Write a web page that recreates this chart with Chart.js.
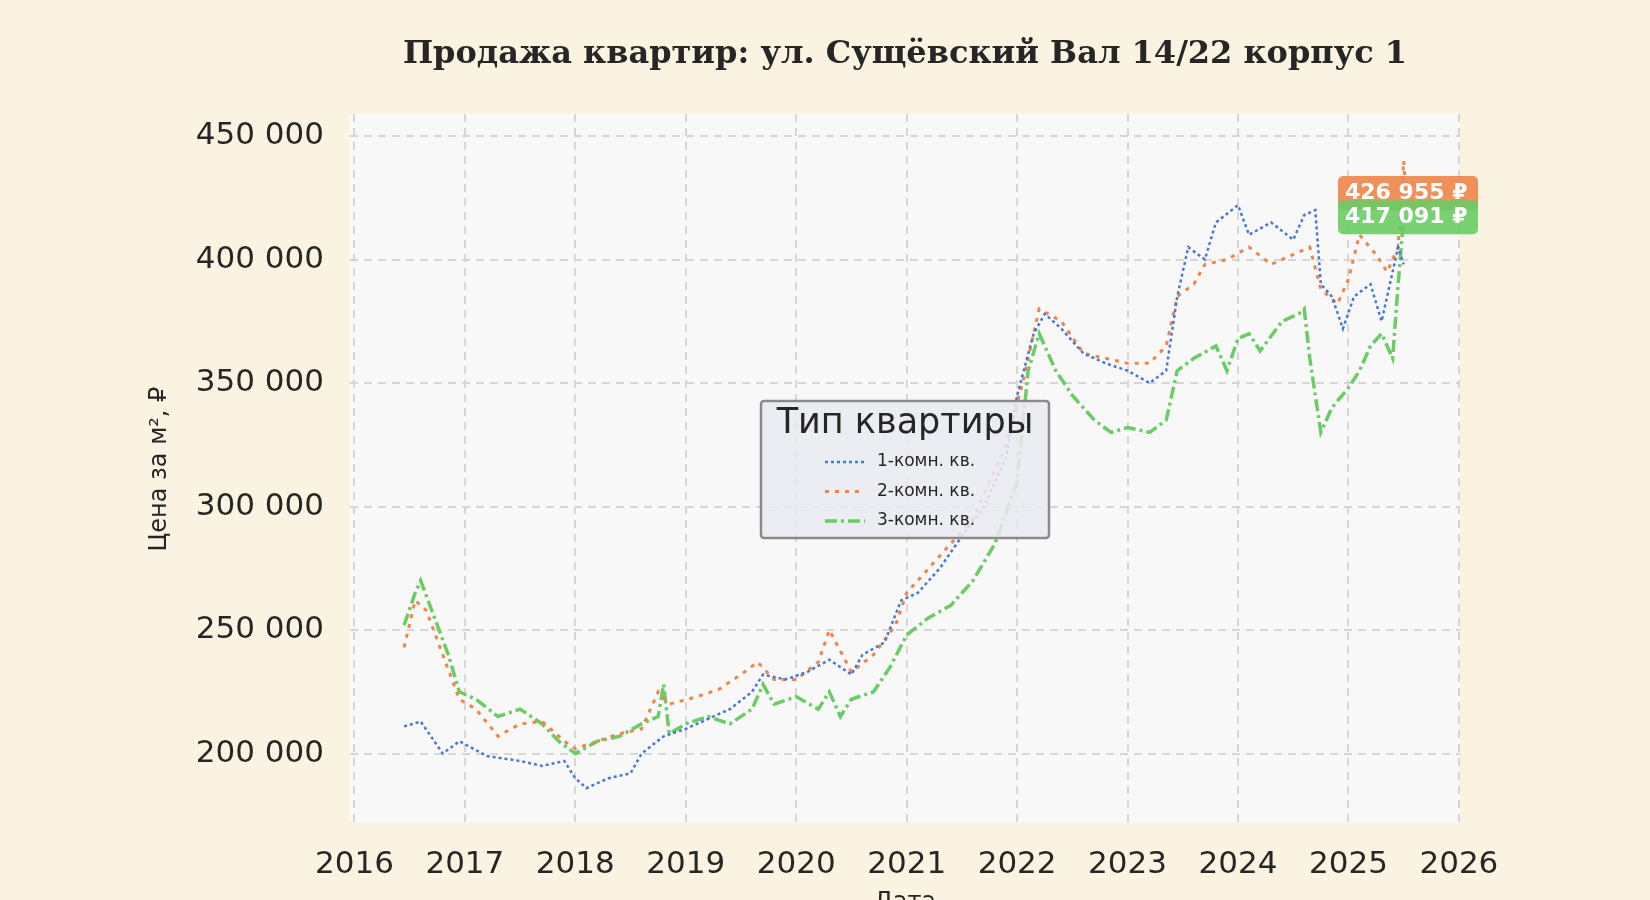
<!DOCTYPE html>
<html>
<head>
<meta charset="utf-8">
<script src="https://cdn.jsdelivr.net/npm/chart.js@4/dist/chart.umd.min.js"></script>
<style>
  html, body { margin: 0; padding: 0; background: #faf3e1; overflow: hidden; }
  #wrap { width: 1650px; height: 900px; position: relative; }
</style>
</head>
<body>
<div id="wrap"><canvas id="chart" width="1650" height="900"></canvas></div>
<script>
// --- Данные (год в десятичном виде, цена за м²) ---
const years1 = [2016.45,2016.6,2016.8,2016.95,2017.2,2017.5,2017.7,2017.9,2018.0,2018.1,2018.3,2018.5,2018.6,2018.8,2019.0,2019.2,2019.4,2019.6,2019.7,2019.9,2020.1,2020.3,2020.5,2020.6,2020.8,2020.95,2021.1,2021.3,2021.5,2021.7,2021.9,2022.0,2022.15,2022.25,2022.4,2022.6,2022.8,2023.0,2023.2,2023.35,2023.45,2023.55,2023.7,2023.8,2024.0,2024.1,2024.3,2024.5,2024.6,2024.7,2024.75,2024.85,2024.95,2025.05,2025.2,2025.3,2025.45,2025.5];
const prices1 = [211000,213000,200000,205000,199000,197000,195000,197000,190000,186000,190000,192000,200000,207000,210000,214000,218000,225000,232000,230000,233000,238000,232000,240000,245000,262000,265000,275000,288000,300000,320000,345000,370000,378000,372000,362000,358000,355000,350000,355000,385000,405000,400000,415000,422000,410000,415000,408000,418000,420000,390000,385000,372000,385000,390000,375000,405000,398000];

const years2 = [2016.45,2016.55,2016.65,2016.8,2016.95,2017.1,2017.3,2017.5,2017.7,2017.9,2018.0,2018.2,2018.4,2018.6,2018.75,2018.85,2019.1,2019.3,2019.5,2019.65,2019.8,2020.0,2020.2,2020.3,2020.5,2020.7,2020.9,2021.0,2021.3,2021.6,2021.9,2022.05,2022.2,2022.4,2022.6,2022.8,2023.0,2023.2,2023.35,2023.45,2023.6,2023.7,2023.9,2024.1,2024.3,2024.5,2024.65,2024.75,2024.9,2025.0,2025.1,2025.25,2025.35,2025.45,2025.5,2025.52];
const prices2 = [243000,262000,258000,240000,222000,218000,207000,212000,213000,205000,202000,205000,208000,210000,225000,220000,223000,226000,232000,237000,230000,230000,237000,250000,233000,240000,252000,265000,280000,295000,325000,350000,380000,375000,362000,360000,358000,358000,365000,385000,390000,398000,400000,405000,398000,402000,405000,388000,382000,392000,410000,402000,395000,405000,440000,426955];

const years3 = [2016.45,2016.55,2016.6,2016.7,2016.85,2016.95,2017.1,2017.3,2017.5,2017.7,2017.85,2018.0,2018.2,2018.4,2018.6,2018.75,2018.8,2018.85,2019.0,2019.2,2019.4,2019.6,2019.7,2019.8,2020.0,2020.2,2020.3,2020.4,2020.5,2020.7,2020.85,2021.0,2021.2,2021.4,2021.6,2021.8,2022.0,2022.1,2022.2,2022.35,2022.5,2022.7,2022.85,2023.0,2023.2,2023.35,2023.45,2023.6,2023.8,2023.9,2024.0,2024.1,2024.2,2024.4,2024.55,2024.6,2024.65,2024.7,2024.75,2024.85,2025.0,2025.1,2025.2,2025.3,2025.4,2025.45,2025.5];
const prices3 = [252000,265000,270000,258000,240000,225000,222000,215000,218000,212000,205000,200000,205000,207000,212000,215000,228000,208000,212000,215000,212000,218000,228000,220000,223000,218000,225000,215000,222000,225000,235000,248000,255000,260000,270000,285000,310000,355000,370000,355000,345000,335000,330000,332000,330000,335000,355000,360000,365000,355000,368000,370000,363000,375000,378000,380000,360000,345000,330000,340000,348000,355000,365000,370000,360000,390000,417091];

const seriesNames = ['1-комн. кв.', '2-комн. кв.', '3-комн. кв.'];
const seriesColors = ['#4878d0', '#ee854a', '#6acc64'];
const seriesDash = [[3, 3], [4, 6], [12, 4, 3, 4]];
const seriesWidth = [2.5, 3, 3.5];
const yTicks = [200000, 250000, 300000, 350000, 400000, 450000];
const xTicks = [2016, 2017, 2018, 2019, 2020, 2021, 2022, 2023, 2024, 2025, 2026];

const toPts = (xs, ys) => xs.map((x, i) => ({ x, y: ys[i] }));
const fmt = v => Math.round(v).toString().replace(/\B(?=(\d{3})+(?!\d))/g, ' ');

// --- Плагины ---
const decor = {
    id: 'decor',
    beforeDraw(chart) {
        const { ctx, chartArea: a } = chart;
        ctx.save();
        ctx.fillStyle = '#faf3e1';
        ctx.fillRect(0, 0, chart.width, chart.height);
        ctx.fillStyle = '#f8f8f8';
        ctx.fillRect(a.left, a.top, a.right - a.left, a.bottom - a.top);
        ctx.restore();
    },
    afterDraw(chart) {
        const { ctx } = chart;
        const y = chart.scales.y;
        ctx.save();
        // заголовок
        ctx.fillStyle = '#262626';
        ctx.font = 'bold 32px "DejaVu Serif"';
        ctx.textAlign = 'center';
        ctx.textBaseline = 'middle';
        ctx.fillText('Продажа квартир: ул. Сущёвский Вал 14/22 корпус 1', 905, 55);
        // подписи осей
        ctx.font = '24px "DejaVu Sans"';
        ctx.fillText('Дата', 905, 903);
        ctx.translate(160, 469);
        ctx.rotate(-Math.PI / 2);
        ctx.fillText('Цена за м², ₽', 0, 0);
        ctx.restore();

        // легенда
        ctx.save();
        ctx.fillStyle = 'rgba(234,234,242,0.85)';
        ctx.strokeStyle = '#8a8a8a';
        ctx.lineWidth = 2.5;
        ctx.beginPath();
        ctx.roundRect(761, 401, 288, 137, 3);
        ctx.fill();
        ctx.stroke();
        ctx.fillStyle = '#262626';
        ctx.textAlign = 'center';
        ctx.textBaseline = 'middle';
        ctx.font = '35px "DejaVu Sans"';
        ctx.fillText('Тип квартиры', 905, 424);
        ctx.font = '17px "DejaVu Sans"';
        ctx.textAlign = 'left';
        seriesNames.forEach((n, i) => {
            const ly = 462 + i * 29.5;
            ctx.strokeStyle = seriesColors[i];
            ctx.lineWidth = seriesWidth[i];
            ctx.setLineDash(seriesDash[i]);
            ctx.beginPath();
            ctx.moveTo(825, ly);
            ctx.lineTo(865, ly);
            ctx.stroke();
            ctx.fillText(n, 877, ly);
        });
        ctx.setLineDash([]);
        ctx.restore();

        // метки последних значений
        ctx.save();
        ctx.font = 'bold 22px "DejaVu Sans"';
        ctx.textBaseline = 'middle';
        [[1, prices2], [2, prices3]].forEach(([i, arr]) => {
            const v = arr[arr.length - 1];
            const py = y.getPixelForValue(v);
            ctx.fillStyle = seriesColors[i];
            ctx.globalAlpha = 0.9;
            ctx.beginPath();
            ctx.roundRect(1338, py - 17, 140, 34, 5);
            ctx.fill();
            ctx.globalAlpha = 1;
            ctx.fillStyle = '#ffffff';
            ctx.fillText(fmt(v) + ' ₽', 1345, py);
        });
        ctx.restore();
    }
};

const datasets = [toPts(years1, prices1), toPts(years2, prices2), toPts(years3, prices3)].map((d, i) => ({
    label: seriesNames[i],
    data: d,
    borderColor: seriesColors[i],
    borderWidth: seriesWidth[i],
    borderDash: seriesDash[i],
    pointRadius: 0,
    tension: 0,
    fill: false
}));

const gridOpts = { color: '#d6d6d6', lineWidth: 2, drawTicks: false };

new Chart(document.getElementById('chart'), {
    type: 'line',
    data: { datasets },
    options: {
        responsive: false,
        animation: false,
        layout: { padding: { top: 114, right: 190, left: 0, bottom: 0 } },
        plugins: { legend: { display: false }, tooltip: { enabled: false } },
        scales: {
            x: {
                type: 'linear',
                min: 2015.96, max: 2026.01,
                afterBuildTicks: s => { s.ticks = xTicks.map(v => ({ value: v })); },
                afterFit: s => { s.height = 78; },
                ticks: { color: '#262626', font: { size: 31, family: 'DejaVu Sans' }, padding: 24, maxRotation: 0, autoSkip: false, callback: v => String(v) },
                grid: gridOpts,
                border: { display: false, dash: [8, 6] }
            },
            y: {
                min: 172300, max: 458900,
                afterBuildTicks: s => { s.ticks = yTicks.map(v => ({ value: v })); },
                afterFit: s => { s.width = 350; },
                ticks: { color: '#262626', font: { size: 31, family: 'DejaVu Sans' }, padding: 26, autoSkip: false, callback: v => fmt(v) },
                grid: gridOpts,
                border: { display: false, dash: [8, 6] }
            }
        }
    },
    plugins: [decor]
});
</script>
</body>
</html>
